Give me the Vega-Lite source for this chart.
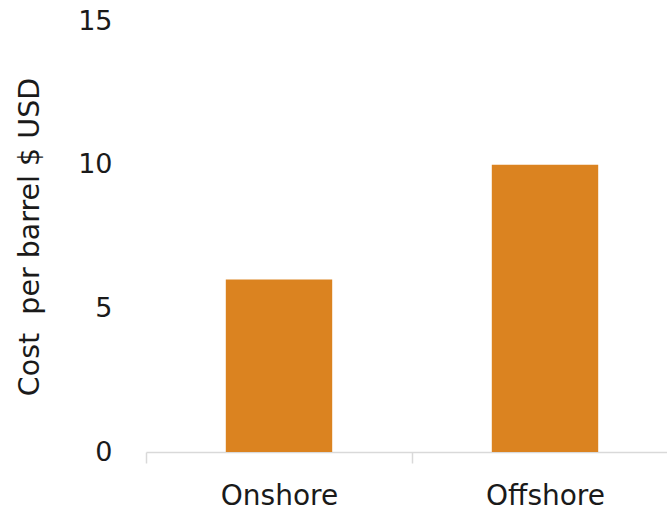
{
  "$schema": "https://vega.github.io/schema/vega-lite/v6.json",
  "autosize": "none",
  "padding": {"left": 146, "top": 21, "right": 0, "bottom": 58},
  "width": 532,
  "height": 431,
  "data": {"values": [
    {"location": "Onshore", "cost": 6},
    {"location": "Offshore", "cost": 10}
  ]},
  "config": {
    "view": {"stroke": null},
    "font": "DejaVu Sans"
  },
  "mark": {"type": "bar", "color": "#DB8320", "width": {"band": 0.4}},
  "encoding": {
    "x": {
      "field": "location", "type": "nominal", "sort": null,
      "scale": {"paddingInner": 0, "paddingOuter": 0},
      "axis": {
        "title": null, "labelAngle": 0, "labelFontSize": 28, "labelColor": "#1a1a1a",
        "labelFont": "DejaVu Sans", "domainColor": "#d9d9d9", "tickColor": "#d9d9d9",
        "tickSize": 11, "tickBand": "extent", "labelPadding": 19, "domainWidth": 1.5, "tickWidth": 1.5
      }
    },
    "y": {
      "field": "cost", "type": "quantitative",
      "scale": {"domain": [0, 15]},
      "axis": {
        "title": "Cost\u00a0 per barrel $ USD", "values": [0, 5, 10, 15],
        "grid": false, "domain": false, "ticks": false, "tickSize": 0,
        "labelPadding": 34, "labelFontSize": 27, "labelColor": "#1a1a1a", "labelFont": "DejaVu Sans",
        "titleFontSize": 28.5, "titleFontWeight": "normal", "titleColor": "#1a1a1a",
        "titlePadding": 33, "titleFont": "DejaVu Sans"
      }
    }
  }
}
